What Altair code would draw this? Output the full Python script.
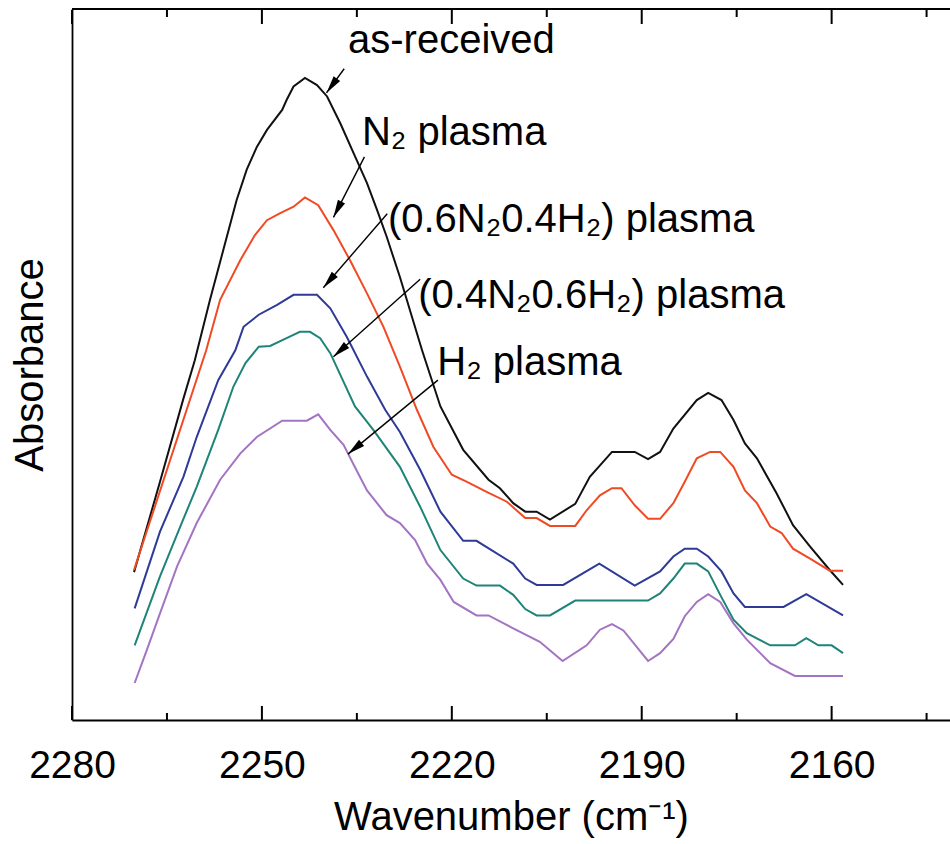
import math
import altair as alt
import pandas as pd

# ---------------- data ----------------
wn_black = [2270.2, 2266.1, 2262.4, 2260.6, 2258.2, 2256.1, 2254.0, 2252.4, 2250.8, 2249.2,
            2246.8, 2246.1, 2245.0, 2243.2, 2241.3, 2239.7, 2237.6, 2235.5, 2233.4, 2231.8,
            2230.3, 2228.2, 2224.7, 2221.8, 2218.2, 2214.2, 2212.4, 2210.3, 2208.4, 2206.6,
            2204.5, 2200.5, 2198.2, 2194.7, 2191.1, 2189.0, 2187.1, 2185.0, 2181.3, 2179.5,
            2177.4, 2175.5, 2173.7, 2171.8, 2168.7, 2166.1, 2163.4, 2160.3, 2158.2]
abs_black = [0.208, 0.335, 0.452, 0.506, 0.591, 0.661, 0.731, 0.774, 0.806, 0.830,
             0.858, 0.872, 0.891, 0.903, 0.893, 0.877, 0.839, 0.797, 0.755, 0.717,
             0.680, 0.623, 0.520, 0.441, 0.380, 0.338, 0.326, 0.305, 0.293, 0.293,
             0.282, 0.304, 0.342, 0.377, 0.377, 0.367, 0.377, 0.410, 0.450, 0.460,
             0.450, 0.422, 0.389, 0.368, 0.319, 0.274, 0.244, 0.211, 0.190]

wn_red = [2270.2, 2258.8, 2256.6, 2253.4, 2251.1, 2249.2, 2247.1, 2245.0, 2243.2, 2241.1,
          2238.7, 2236.1, 2233.4, 2230.8, 2228.2, 2225.5, 2222.9, 2220.0, 2217.6, 2214.5,
          2211.3, 2208.4, 2206.6, 2204.5, 2200.5, 2198.7, 2196.6, 2194.7, 2193.2, 2191.1,
          2189.0, 2187.1, 2185.0, 2183.2, 2181.3, 2179.2, 2177.6, 2175.5, 2173.7, 2171.8,
          2169.7, 2167.9, 2166.1, 2163.4, 2160.3, 2158.2]
abs_red = [0.211, 0.520, 0.591, 0.647, 0.682, 0.703, 0.713, 0.722, 0.735, 0.724,
           0.689, 0.647, 0.600, 0.553, 0.497, 0.436, 0.384, 0.345, 0.335, 0.321,
           0.307, 0.284, 0.284, 0.273, 0.273, 0.295, 0.316, 0.326, 0.326, 0.302,
           0.283, 0.283, 0.305, 0.335, 0.368, 0.377, 0.377, 0.356, 0.323, 0.305,
           0.272, 0.263, 0.241, 0.227, 0.210, 0.210]

wn_blue = [2270.1, 2266.1, 2262.4, 2260.3, 2256.9, 2254.2, 2252.9, 2250.5, 2247.6, 2245.0,
           2241.3, 2239.2, 2236.6, 2233.4, 2230.5, 2228.2, 2225.0, 2221.8, 2218.2, 2216.1,
           2210.3, 2208.4, 2206.6, 2202.4, 2196.7, 2191.1, 2187.1, 2185.0, 2183.2, 2181.3,
           2179.5, 2177.4, 2175.5, 2173.7, 2167.6, 2164.0, 2158.2]
abs_blue = [0.157, 0.265, 0.342, 0.398, 0.478, 0.520, 0.553, 0.570, 0.584, 0.598,
            0.598, 0.579, 0.539, 0.483, 0.436, 0.405, 0.352, 0.293, 0.252, 0.252,
            0.220, 0.199, 0.190, 0.190, 0.220, 0.189, 0.209, 0.230, 0.241, 0.241,
            0.230, 0.209, 0.178, 0.159, 0.159, 0.177, 0.147]

wn_teal = [2270.1, 2266.1, 2262.9, 2260.3, 2256.9, 2254.5, 2252.6, 2250.5, 2248.7, 2246.1,
           2244.0, 2242.4, 2240.8, 2239.2, 2235.3, 2232.4, 2228.2, 2225.0, 2221.8, 2218.2,
           2216.1, 2212.4, 2210.3, 2208.4, 2206.6, 2204.5, 2200.5, 2189.0, 2187.1, 2185.0,
           2183.2, 2181.3, 2179.5, 2177.6, 2175.5, 2173.4, 2169.7, 2165.8, 2164.0, 2162.1,
           2160.0, 2158.2]
abs_teal = [0.105, 0.202, 0.272, 0.328, 0.408, 0.469, 0.502, 0.525, 0.526, 0.537,
            0.546, 0.546, 0.537, 0.516, 0.441, 0.408, 0.356, 0.300, 0.239, 0.199,
            0.189, 0.189, 0.176, 0.156, 0.147, 0.147, 0.168, 0.168, 0.178, 0.199,
            0.220, 0.220, 0.209, 0.176, 0.141, 0.122, 0.105, 0.105, 0.115, 0.105,
            0.105, 0.094]

wn_purple = [2270.1, 2268.2, 2266.1, 2263.4, 2260.3, 2256.6, 2253.4, 2250.8, 2246.8, 2242.9,
             2241.1, 2239.2, 2237.1, 2235.5, 2233.4, 2230.3, 2228.2, 2225.8, 2223.9, 2221.8,
             2219.7, 2216.1, 2214.2, 2210.3, 2206.1, 2202.5, 2198.7, 2196.6, 2194.7, 2192.9,
             2189.0, 2187.1, 2185.0, 2183.2, 2181.3, 2179.5, 2177.6, 2175.5, 2173.4, 2169.7,
             2165.8, 2158.2]
abs_purple = [0.052, 0.098, 0.150, 0.216, 0.277, 0.338, 0.375, 0.398, 0.421, 0.421,
              0.430, 0.408, 0.387, 0.359, 0.323, 0.288, 0.277, 0.253, 0.220, 0.197,
              0.166, 0.147, 0.147, 0.129, 0.110, 0.083, 0.105, 0.127, 0.135, 0.126,
              0.083, 0.094, 0.114, 0.146, 0.166, 0.177, 0.166, 0.136, 0.113, 0.080,
              0.062, 0.062]

series_names = ["as-received", "N2 plasma", "(0.6N2 0.4H2) plasma", "(0.4N2 0.6H2) plasma", "H2 plasma"]
series_colors = ["#111111", "#f04a24", "#2e3a97", "#1e8478", "#a374c2"]

x_ticks_major = [2280, 2250, 2220, 2190, 2160]
x_ticks_minor = [2265, 2235, 2205, 2175, 2145]

label_texts = ["as-received", "N\u2082 plasma", "(0.6N\u20820.4H\u2082) plasma",
               "(0.4N\u20820.6H\u2082) plasma", "H\u2082 plasma"]
label_wn = [2236.4, 2234.2, 2230.1, 2225.3, 2222.3]
label_abs = [0.938, 0.809, 0.686, 0.579, 0.485]

arrow_wn_start = [2237.0, 2233.8, 2230.2, 2225.0, 2222.2]
arrow_abs_start = [0.916, 0.792, 0.712, 0.620, 0.478]
arrow_wn_tip = [2239.8, 2238.7, 2240.3, 2238.7, 2236.4]
arrow_abs_tip = [0.882, 0.707, 0.608, 0.511, 0.374]

# ---------------- layout ----------------
W, H = 878, 711
X_DOMAIN = [2141.3, 2280]
Y_DOMAIN = [0, 1]
FONT = "Liberation Sans"

frames = []
for name, wn, ab in zip(series_names,
                        [wn_black, wn_red, wn_blue, wn_teal, wn_purple],
                        [abs_black, abs_red, abs_blue, abs_teal, abs_purple]):
    frames.append(pd.DataFrame({"series": name, "wn": wn, "a": ab}))
lines_df = pd.concat(frames, ignore_index=True)

px_per_wn = W / (X_DOMAIN[1] - X_DOMAIN[0])
px_per_a = H / (Y_DOMAIN[1] - Y_DOMAIN[0])
angles = []
for ws, as_, wt, at in zip(arrow_wn_start, arrow_abs_start, arrow_wn_tip, arrow_abs_tip):
    dx = -(wt - ws) * px_per_wn      # reversed x scale
    dy = -(at - as_) * px_per_a      # screen y grows downward
    angles.append((math.degrees(math.atan2(dx, -dy)) + 360) % 360)

arrows_df = pd.DataFrame({"wn": arrow_wn_start, "a": arrow_abs_start,
                          "wn2": arrow_wn_tip, "a2": arrow_abs_tip})
heads_df = pd.DataFrame({"wn": arrow_wn_tip, "a": arrow_abs_tip, "ang": angles})
labels_df = pd.DataFrame({"wn": label_wn, "a": label_abs, "txt": label_texts})
border_df = pd.DataFrame({"wn": [X_DOMAIN[1]], "wn2": [X_DOMAIN[0]], "a": [Y_DOMAIN[1]]})

xscale = alt.Scale(domain=X_DOMAIN, reverse=True, nice=False, zero=False)
yscale = alt.Scale(domain=Y_DOMAIN, nice=False, zero=False)

xaxis = alt.Axis(values=x_ticks_major, format="d", ticks=False, tickSize=0, grid=False,
                 labelFontSize=39, labelPadding=26, labelFlush=False, labelOverlap=False,
                 labelColor="black", labelFont=FONT,
                 title="Wavenumber (cm\u207b\u00b9)", titleFontSize=40, titleFontWeight="normal",
                 titleFont=FONT, titleColor="black", titlePadding=12,
                 domainColor="black", domainWidth=1.8)
yaxis = alt.Axis(labels=False, ticks=False, tickSize=0, grid=False,
                 title="Absorbance", titleFontSize=40, titleFontWeight="normal",
                 titleFont=FONT, titleColor="black", titlePadding=22,
                 domainColor="black", domainWidth=1.8)

X = alt.X("wn:Q", scale=xscale, axis=xaxis)
Y = alt.Y("a:Q", scale=yscale, axis=yaxis)

lines = alt.Chart(lines_df).mark_line(strokeWidth=2).encode(
    x=X, y=Y,
    color=alt.Color("series:N", scale=alt.Scale(domain=series_names, range=series_colors), legend=None),
    detail="series:N",
)

major_df = pd.DataFrame({"wn": x_ticks_major})
minor_df = pd.DataFrame({"wn": x_ticks_minor})
tick_layers = []
for df, ln in [(major_df, 14), (minor_df, 7)]:
    tick_layers.append(alt.Chart(df).mark_rule(color="black", strokeWidth=2).encode(
        x=X, y=alt.value(H), y2=alt.value(H - ln)))
    tick_layers.append(alt.Chart(df).mark_rule(color="black", strokeWidth=2).encode(
        x=X, y=alt.value(1), y2=alt.value(1 + ln)))

top_border = alt.Chart(border_df).mark_rule(color="black", strokeWidth=2).encode(
    x=X, x2="wn2:Q", y=Y)

arrow_lines = alt.Chart(arrows_df).mark_rule(color="black", strokeWidth=1.4).encode(
    x=X, y=Y, x2="wn2:Q", y2="a2:Q")

arrow_heads = alt.Chart(heads_df).mark_point(
    shape="M0,0L0.5,2.2L-0.5,2.2Z", filled=True, color="black", opacity=1, size=256
).encode(x=X, y=Y, angle=alt.Angle("ang:Q", scale=None))

labels = alt.Chart(labels_df).mark_text(
    align="left", baseline="alphabetic", font=FONT, fontSize=40, color="black"
).encode(x=X, y=Y, text="txt:N")

chart = alt.layer(lines, *tick_layers, top_border, arrow_lines, arrow_heads, labels).properties(
    width=W, height=H,
    autosize=alt.AutoSizeParams(type="none"),
    padding={"left": 72, "top": 9, "right": 0, "bottom": 124},
).configure(background="white", view=alt.ViewConfig(stroke=None))

chart.save("out.html", embed_options={"renderer": "svg", "actions": False})
